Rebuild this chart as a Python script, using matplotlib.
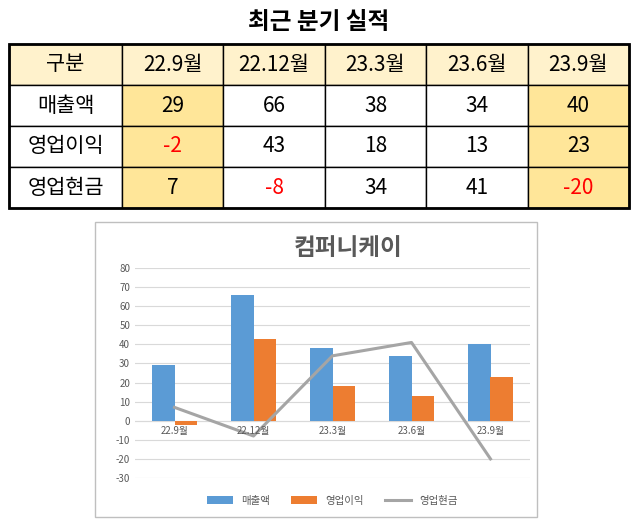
import matplotlib.pyplot as plt
import matplotlib.patches as mpatches
from matplotlib import font_manager
import numpy as np

# find an installed CJK font
cjk = [f.name for f in font_manager.fontManager.ttflist if 'CJK' in f.name]
fams = ['Noto Sans CJK KR', 'Noto Sans CJK JP', 'Noto Sans CJK SC'] + cjk + ['DejaVu Sans']
plt.rcParams['font.family'] = 'sans-serif'
plt.rcParams['font.sans-serif'] = fams
plt.rcParams['axes.unicode_minus'] = False

quarters = ['22.9월', '22.12월', '23.3월', '23.6월', '23.9월']
row_names = ['매출액', '영업이익', '영업현금']
sales = [29, 66, 38, 34, 40]
op_profit = [-2, 43, 18, 13, 23]
op_cash = [7, -8, 34, 41, -20]

W, H = 638, 527
fig = plt.figure(figsize=(W / 100, H / 100), dpi=100)

# table drawn in pixel coords
tab = fig.add_axes([0, 0, 1, 1])
tab.set_xlim(0, W)
tab.set_ylim(H, 0)
tab.axis('off')
tab.text(W / 2, 22, '최근 분기 실적', ha='center', va='center', fontsize=17, fontweight='bold')

x0, y0, row_h = 9, 44, 41
col_w = [113] + [101.4] * 5
xs = np.concatenate([[x0], x0 + np.cumsum(col_w)])
rows = [['구분'] + quarters] + [[n] + vals for n, vals in zip(row_names, [sales, op_profit, op_cash])]
for r, row in enumerate(rows):
    for c, val in enumerate(row):
        if r == 0:
            fc = '#FFF2CC'
        elif c in (1, 5):
            fc = '#FFE699'
        else:
            fc = 'white'
        y = y0 + r * row_h
        tab.add_patch(mpatches.Rectangle((xs[c], y), col_w[c], row_h, fc=fc, ec='black', lw=1))
        color = 'red' if isinstance(val, int) and val < 0 else 'black'
        tab.text(xs[c] + col_w[c] / 2, y + row_h / 2, str(val), ha='center', va='center',
                 fontsize=15, color=color)
tab.add_patch(mpatches.Rectangle((x0, y0), xs[-1] - x0, 4 * row_h, fc='none', ec='black', lw=2))

# chart frame
tab.add_patch(mpatches.Rectangle((95, 222), 442, 295, fc='white', ec='#BFBFBF', lw=1))
tab.text(348, 248, '컴퍼니케이', ha='center', va='center', fontsize=17, fontweight='bold', color='#595959')

ax = fig.add_axes([135 / W, 1 - 478 / H, (530 - 135) / W, (478 - 268) / H])
x = np.arange(len(quarters))
bw = 0.28
ax.bar(x - bw / 2, sales, bw, color='#5B9BD5', label='매출액', zorder=2)
ax.bar(x + bw / 2, op_profit, bw, color='#ED7D31', label='영업이익', zorder=2)
ax.plot(x, op_cash, color='#A5A5A5', lw=2.2, label='영업현금', zorder=3)
ax.set_xlim(-0.5, 4.5)
ax.set_ylim(-30, 80)
ax.set_yticks(range(-30, 81, 10))
ax.grid(axis='y', color='#D9D9D9', lw=0.8, zorder=0)
ax.set_axisbelow(True)
for s in ax.spines.values():
    s.set_visible(False)
ax.axhline(0, color='#D9D9D9', lw=0.8, zorder=1)
ax.tick_params(length=0, labelsize=7, colors='#595959')
ax.set_xticks([])
for i, q in enumerate(quarters):
    ax.text(i, -3, q, ha='center', va='top', fontsize=7, color='#595959')
h, l = ax.get_legend_handles_labels()
order = [l.index('매출액'), l.index('영업이익'), l.index('영업현금')]
ax.legend([h[i] for i in order], [l[i] for i in order], loc='upper center',
          bbox_to_anchor=(0.5, -0.04), ncol=3, frameon=False, fontsize=7.5,
          labelcolor='#595959', handlelength=2.5)

fig.savefig('out.png', dpi=100)
